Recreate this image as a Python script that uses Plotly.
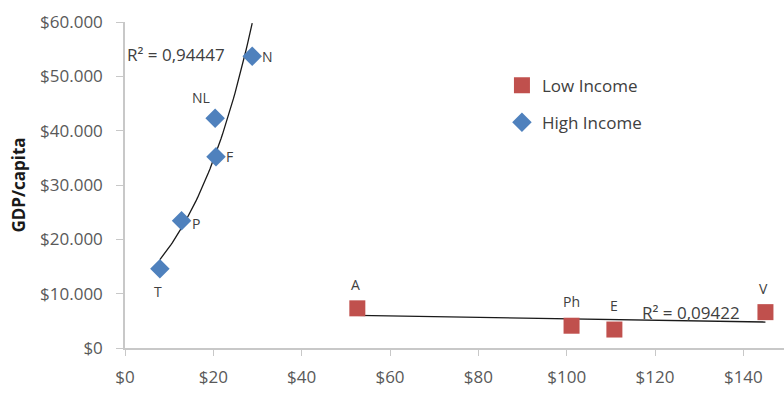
import numpy as np
import plotly.graph_objects as go

# High income countries: price (x) vs GDP per capita (y)
high_labels = ["T", "P", "F", "NL", "N"]
high_x = [7.9, 12.8, 20.6, 20.4, 28.8]
high_y = [14600, 23400, 35200, 42300, 53700]

# Low income countries
low_labels = ["A", "Ph", "E", "V"]
low_x = [52.6, 101.1, 110.8, 145.0]
low_y = [7300, 4100, 3400, 6600]

r2_high = "R² = 0,94447"
r2_low = "R² = 0,09422"

BLUE = "#4F81BD"
RED = "#C0504D"
TEXT = "#404040"
AXIS = "#C8C8C8"
FONT = "Open Sans"

fig = go.Figure()

# Exponential trend for high income (least squares on log y)
b, ln_a = np.polyfit(high_x, np.log(high_y), 1)
hx = np.linspace(min(high_x), max(high_x), 60)
fig.add_trace(go.Scatter(x=hx, y=np.exp(ln_a + b * hx), mode="lines",
                         line=dict(color="#1a1a1a", width=1.3),
                         showlegend=False, hoverinfo="skip"))

# Linear trend for low income
m, c = np.polyfit(low_x, low_y, 1)
lx = np.array([min(low_x), max(low_x)])
fig.add_trace(go.Scatter(x=lx, y=m * lx + c, mode="lines",
                         line=dict(color="#1a1a1a", width=1.3),
                         showlegend=False, hoverinfo="skip"))

fig.add_trace(go.Scatter(x=low_x, y=low_y, mode="markers", name="Low Income",
                         legendgroup="low",
                         marker=dict(symbol="square", size=16, color=RED)))
fig.add_trace(go.Scatter(x=high_x, y=high_y, mode="markers", name="High Income",
                         legendgroup="high",
                         marker=dict(symbol="diamond", size=15, color=BLUE)))

# Point labels: (xshift, yshift, anchor)
high_offsets = [(-2, -23, "center"), (8, -3, "left"), (8, 0, "left"),
                (-14, 21, "center"), (8, 0, "left")]
low_offsets = [(-2, 24, "center"), (0, 24, "center"), (0, 24, "center"),
               (-2, 24, "center")]

annotations = []
for lab, x, y, (dx, dy, anc) in zip(high_labels, high_x, high_y, high_offsets):
    annotations.append(dict(x=x, y=y, text=lab, showarrow=False, xshift=dx,
                            yshift=dy, xanchor=anc,
                            font=dict(size=14, color=TEXT, family=FONT)))
for lab, x, y, (dx, dy, anc) in zip(low_labels, low_x, low_y, low_offsets):
    annotations.append(dict(x=x, y=y, text=lab, showarrow=False, xshift=dx,
                            yshift=dy, xanchor=anc,
                            font=dict(size=14, color=TEXT, family=FONT)))

annotations.append(dict(x=23.1, y=54000, text=r2_high, showarrow=False,
                        xanchor="right", yanchor="middle",
                        font=dict(size=17, color=TEXT, family=FONT)))
annotations.append(dict(x=139.8, y=6500, text=r2_low, showarrow=False,
                        xanchor="right", yanchor="middle",
                        font=dict(size=17, color=TEXT, family=FONT)))

fig.update_layout(
    width=784, height=403,
    margin=dict(l=125, r=0, t=22, b=55),
    paper_bgcolor="white", plot_bgcolor="white",
    separators=",.",
    font=dict(family=FONT, color="#595959"),
    showlegend=True,
    legend=dict(x=0.572, y=0.86, xanchor="left", yanchor="top",
                traceorder="grouped", tracegroupgap=12,
                font=dict(size=17, color=TEXT, family=FONT),
                itemwidth=30,
                bgcolor="rgba(0,0,0,0)"),
    annotations=annotations,
    xaxis=dict(range=[0, 149.2], dtick=20, tick0=0, tickprefix="$",
               tickformat=",.0f", showgrid=False, zeroline=False,
               showline=True, linecolor=AXIS, linewidth=1.5,
               ticks="outside", tickcolor=AXIS, ticklen=6,
               ticklabelstandoff=7,
               tickfont=dict(size=17, color="#595959")),
    yaxis=dict(range=[0, 60000], dtick=10000, tickprefix="$",
               tickformat=",.0f", showgrid=False, zeroline=False,
               showline=True, linecolor=AXIS, linewidth=1.5,
               ticks="outside", tickcolor=AXIS, ticklen=7,
               ticklabelstandoff=10,
               tickfont=dict(size=17, color="#595959"),
               title=dict(text="<b>GDP/capita</b>", standoff=10,
                          font=dict(size=17, color="#1a1a1a", family=FONT))),
)

fig.write_html("out.html")
